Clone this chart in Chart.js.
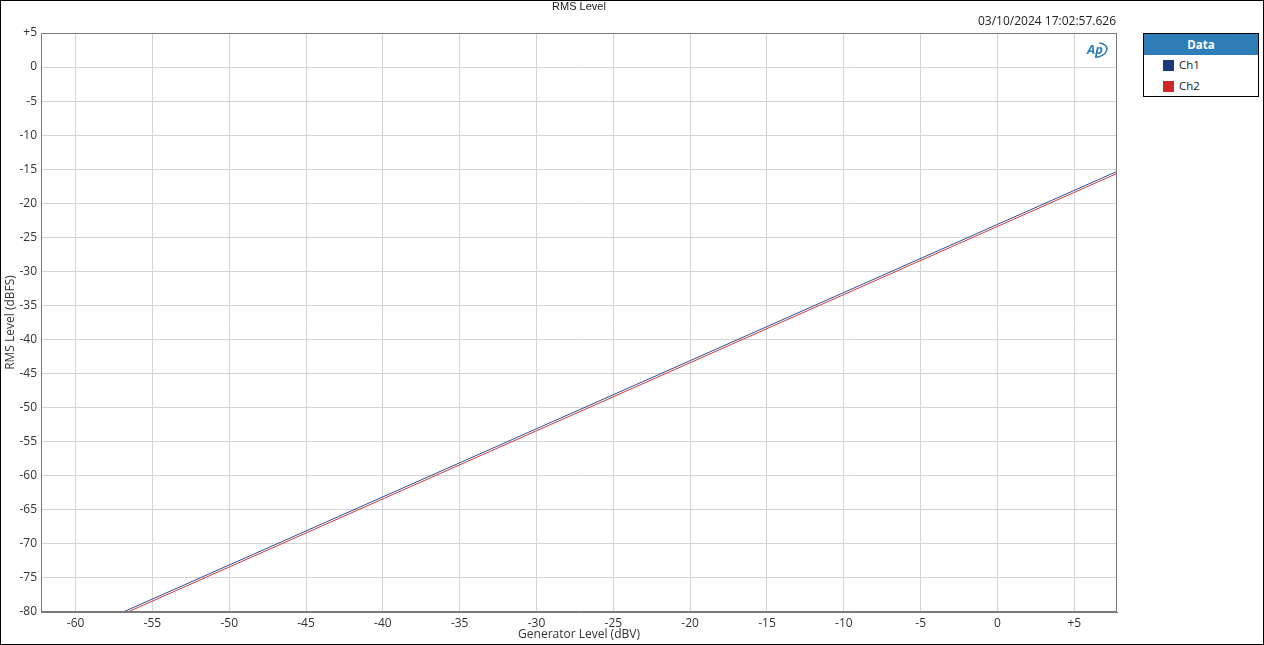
<!DOCTYPE html>
<html>
<head>
<meta charset="utf-8">
<title>RMS Level</title>
<script src="https://cdn.jsdelivr.net/npm/chart.js@4.4.1/dist/chart.umd.min.js"></script>
<style>
    body { margin: 0; background: #fff; font-family: "Open Sans", "Noto Sans", sans-serif; }
    #wrap { position: relative; width: 1264px; height: 645px; }
    #legend {
        position: absolute; left: 1143px; top: 33px; width: 114px; height: 62px;
        border: 1px solid #000; background: #fff; font-size: 11.5px; color: #222;
    }
    #legend .head {
        background: #2e7db6; color: #fff; font-weight: bold; text-align: center;
        height: 21px; line-height: 21px;
    }
    #legend .row { position: relative; height: 21px; }
    #legend .sw { position: absolute; left: 19px; top: 5px; width: 11px; height: 11px; }
    #legend .lbl { position: absolute; left: 35px; top: 2px; }
</style>
</head>
<body>
<div id="wrap">
    <canvas id="myChart" width="1264" height="645"></canvas>
    <div id="legend">
        <div class="head">Data</div>
        <div class="row"><span class="sw" style="background:#1b3a7e"></span><span class="lbl">Ch1</span></div>
        <div class="row"><span class="sw" style="background:#cc2626"></span><span class="lbl">Ch2</span></div>
    </div>
</div>
<script>
// values
const genLevel = [-57.0, -50, -40, -30, -20, -10, 0, 7.8];
const ch1 = [-80.1, -73.1, -63.1, -53.1, -43.1, -33.1, -23.1, -15.3];
const ch2 = [-80.4, -73.4, -63.4, -53.4, -43.4, -33.4, -23.4, -15.6];
const xTicks = [-60, -55, -50, -45, -40, -35, -30, -25, -20, -15, -10, -5, 0, 5];
const yTicks = [5, 0, -5, -10, -15, -20, -25, -30, -35, -40, -45, -50, -55, -60, -65, -70, -75, -80];

function toPoints(ys){
    var pts = [];
    for(var i = 0; i < genLevel.length; i++){
        pts.push({x: genLevel[i], y: ys[i]});
    }
    return pts;
}

function fmt(v){
    return v > 0 ? "+" + v : "" + v;
}

const FONT = {family: '"Open Sans", "Noto Sans", sans-serif', size: 12};

// frame, title, timestamp and logo
const decor = {
    id: 'decor',
    afterDraw(chart){
        var ctx = chart.ctx;
        var a = chart.chartArea;
        ctx.save();
        ctx.strokeStyle = '#7a7a7a';
        ctx.lineWidth = 1;
        ctx.strokeRect(a.left + 0.5, a.top + 0.5, a.right - a.left - 1, a.bottom - a.top - 1);

        ctx.strokeStyle = '#000';
        ctx.strokeRect(0.5, 0.5, 1263, 644);

        ctx.fillStyle = '#222';
        ctx.font = '11px "Liberation Sans", Arial, sans-serif';
        ctx.textAlign = 'center';
        ctx.textBaseline = 'middle';
        ctx.fillText('RMS Level', 579, 7);

        ctx.font = '12px "Open Sans", "Noto Sans", sans-serif';
        ctx.textAlign = 'right';
        ctx.fillText('03/10/2024 17:02:57.626', 1116, 22);

        // AP logo
        ctx.fillStyle = '#2e7db6';
        ctx.font = 'italic bold 13px "Open Sans", sans-serif';
        ctx.textAlign = 'center';
        ctx.fillText('Ap', 1095, 50);
        ctx.strokeStyle = '#2e7db6';
        ctx.lineWidth = 1.5;
        ctx.beginPath();
        ctx.ellipse(1097, 50, 10, 7, -0.2, -1.2, 1.9);
        ctx.stroke();
        ctx.restore();
    }
};

const config = {
    type: 'line',
    data: {
        datasets: [{
            label: 'Ch1',
            data: toPoints(ch1),
            borderColor: '#2a4f9a',
            borderWidth: 1,
            pointRadius: 0,
            tension: 0
        }, {
            label: 'Ch2',
            data: toPoints(ch2),
            borderColor: '#d23a3a',
            borderWidth: 1,
            pointRadius: 0,
            tension: 0
        }]
    },
    options: {
        responsive: false,
        animation: false,
        layout: {padding: {left: 0, top: 33, right: 147, bottom: 0}},
        plugins: {legend: {display: false}, tooltip: {enabled: false}},
        scales: {
            x: {
                type: 'linear',
                min: -62.25,
                max: 7.78,
                afterBuildTicks: function(s){ s.ticks = xTicks.map(function(v){ return {value: v}; }); },
                afterFit: function(s){ s.height = 33; },
                grid: {color: '#d4d4d4', drawTicks: false},
                border: {color: '#7a7a7a'},
                ticks: {color: '#333', font: FONT, padding: 4, maxRotation: 0, callback: fmt},
                title: {display: true, text: 'Generator Level (dBV)', color: '#333', font: FONT, padding: {top: 0, bottom: 3}}
            },
            y: {
                min: -80,
                max: 5,
                afterBuildTicks: function(s){ s.ticks = yTicks.map(function(v){ return {value: v}; }); },
                afterFit: function(s){ s.width = 41; },
                grid: {color: '#d4d4d4', drawTicks: false},
                border: {color: '#7a7a7a'},
                ticks: {color: '#333', font: FONT, padding: 4, callback: fmt},
                title: {display: true, text: 'RMS Level (dBFS)', color: '#333', font: FONT, padding: {top: 3, bottom: 0}}
            }
        }
    },
    plugins: [decor]
};

var myChart = new Chart(document.getElementById("myChart").getContext("2d"), config);
</script>
</body>
</html>
